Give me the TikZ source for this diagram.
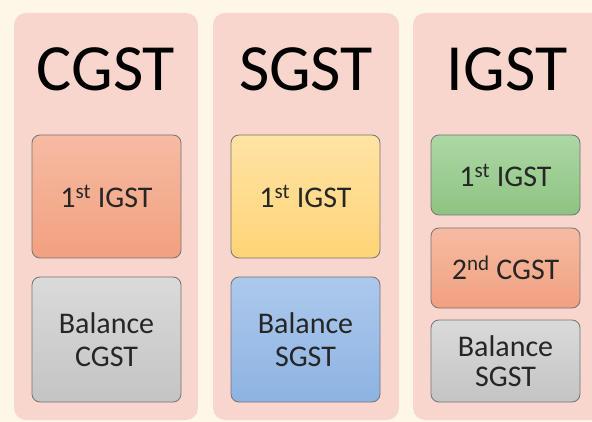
\documentclass[tikz,border=0pt]{standalone}
\usepackage{fontspec}
\setmainfont{Carlito}
\definecolor{cream}{HTML}{FEF7E7}
\definecolor{colpink}{HTML}{F8D6CD}
\definecolor{orngT}{HTML}{F6BBA2}
\definecolor{orngB}{HTML}{F2A080}
\definecolor{greyT}{HTML}{DADADA}
\definecolor{greyB}{HTML}{C4C4C4}
\definecolor{yellT}{HTML}{FFE3A3}
\definecolor{yellB}{HTML}{FFD478}
\definecolor{blueT}{HTML}{ADC9EC}
\definecolor{blueB}{HTML}{8DB3E2}
\definecolor{grenT}{HTML}{ADD8A5}
\definecolor{grenB}{HTML}{8DC381}
\tikzset{
  column/.style={fill=colpink,rounded corners=12pt},
  title/.style={font=\fontsize{66}{66}\selectfont,text=black},
  gstbox/.style={draw=black!55,line width=0.8pt,rounded corners=8pt,
    minimum width=149pt,align=center,
    font=\fontsize{30}{33}\selectfont,text=black!85},
}
\begin{document}
\begin{tikzpicture}[x=1pt,y=-1pt]
% background
\fill[cream] (0,0) rectangle (592,422);
\useasboundingbox (0,0) rectangle (592,422);
% columns
\fill[column] (14,13) rectangle (198,420);
\fill[column] (213,13) rectangle (399,420);
\fill[column] (413,13) rectangle (604,420);
% titles
\node[title] (tcgst) at (106,69) {CGST};
\node[title] (tsgst) at (306,69) {SGST};
\node[title] (tigst) at (507,69) {IGST};
% CGST column
\node[gstbox,minimum height=123pt,top color=orngT,bottom color=orngB] (cgstA) at (106.5,196.5) {1\textsuperscript{st} IGST};
\node[gstbox,minimum height=125pt,top color=greyT,bottom color=greyB] (cgstB) at (106.5,339.5) {Balance\\CGST};
% SGST column
\node[gstbox,minimum height=123pt,top color=yellT,bottom color=yellB] (sgstA) at (305.5,196.5) {1\textsuperscript{st} IGST};
\node[gstbox,minimum height=125pt,top color=blueT,bottom color=blueB] (sgstB) at (305.5,339.5) {Balance\\SGST};
% IGST column
\node[gstbox,minimum height=80pt,top color=grenT,bottom color=grenB] (igstA) at (505.5,175) {1\textsuperscript{st} IGST};
\node[gstbox,minimum height=80pt,top color=orngT,bottom color=orngB] (igstB) at (505.5,268) {2\textsuperscript{nd} CGST};
\node[gstbox,minimum height=82pt,top color=greyT,bottom color=greyB,font=\fontsize{30}{30}\selectfont] (igstC) at (505.5,361) {Balance\\SGST};
\end{tikzpicture}
\end{document}
